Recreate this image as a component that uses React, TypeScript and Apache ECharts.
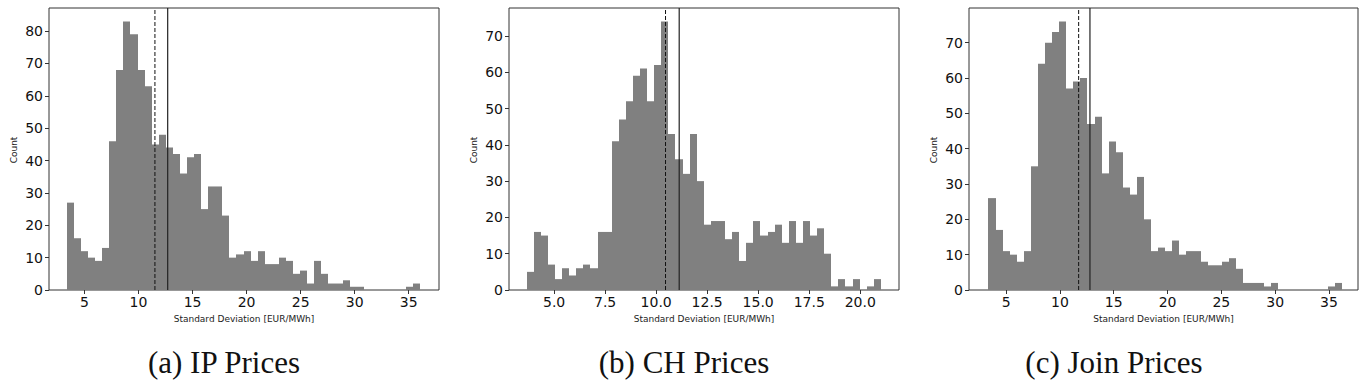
import React, { useEffect, useRef } from "react";
import * as echarts from "echarts";

// ---------- data ----------
const ipCounts = [27, 16, 12, 10, 9, 13, 46, 68, 83, 79, 68, 63, 45, 48, 44, 42, 36, 41, 42, 25, 32, 32, 23, 10, 11, 12, 9, 12, 8, 8, 10, 9, 5, 6, 2, 9, 5, 2, 2, 3, 1, 1, 0, 0, 0, 0, 0, 0, 1, 2];
const chCounts = [5, 16, 15, 7, 3, 6, 4, 6, 7, 6, 16, 16, 41, 47, 52, 59, 61, 52, 62, 74, 43, 36, 32, 43, 30, 18, 19, 19, 14, 16, 8, 13, 19, 15, 16, 18, 13, 19, 13, 19, 15, 17, 10, 1, 3, 1, 3, 0, 1, 3];
const joinCounts = [26, 17, 11, 10, 8, 11, 35, 64, 70, 73, 76, 57, 59, 60, 47, 49, 33, 42, 39, 29, 27, 32, 20, 11, 12, 11, 14, 10, 11, 11, 8, 7, 7, 8, 9, 6, 2, 2, 2, 1, 2, 0, 0, 0, 0, 0, 0, 0, 1, 2];

const binStarts = [3.37, 3.66, 3.36];
const binWidths = [0.654, 0.347, 0.657];
const medians = [11.52, 10.46, 11.74]; // dashed
const means = [12.7, 11.13, 12.79]; // solid

const xTicksIP = [5, 10, 15, 20, 25, 30, 35];
const xTicksCH = [5, 7.5, 10, 12.5, 15, 17.5, 20];
const xTicksJoin = [5, 10, 15, 20, 25, 30, 35];
const yTicksIP = [0, 10, 20, 30, 40, 50, 60, 70, 80];
const yTicksCH = [0, 10, 20, 30, 40, 50, 60, 70];
const yTicksJoin = [0, 10, 20, 30, 40, 50, 60, 70];

const captions = ["(a) IP Prices", "(b) CH Prices", "(c) Join Prices"];
const xAxisTitle = "Standard Deviation [EUR/MWh]";
const yAxisTitle = "Count";

export default function App() {
  const ref = useRef<HTMLDivElement>(null);

  useEffect(() => {
    if (!ref.current) return;
    const chart = echarts.init(ref.current, null, { renderer: "svg" });

    const panels = [
      { counts: ipCounts, xTicks: xTicksIP, yTicks: yTicksIP, xMin: 1.72, xMax: 37.8, yMax: 87.15, left: 49, width: 390, fmt: (v: number) => String(v), capX: 224, yLabX: 14 },
      { counts: chCounts, xTicks: xTicksCH, yTicks: yTicksCH, xMin: 2.79, xMax: 21.9, yMax: 77.7, left: 509, width: 390, fmt: (v: number) => v.toFixed(1), capX: 684, yLabX: 474 },
      { counts: joinCounts, xTicks: xTicksJoin, yTicks: yTicksJoin, xMin: 1.55, xMax: 37.7, yMax: 79.8, left: 969, width: 389, fmt: (v: number) => String(v), capX: 1114, yLabX: 934 },
    ];

    const grid = panels.map((p) => ({
      left: p.left, top: 8, width: p.width, height: 282,
      show: true, borderColor: "#333", borderWidth: 1, backgroundColor: "transparent",
    }));

    const xAxis = panels.map((p, i) => ({
      type: "value", gridIndex: i, min: p.xMin, max: p.xMax,
      axisLine: { show: false }, splitLine: { show: false },
      axisTick: { show: true, customValues: p.xTicks, length: 4, lineStyle: { color: "#333", width: 1 } },
      axisLabel: { customValues: p.xTicks, formatter: p.fmt, fontSize: 14, color: "#111", fontFamily: "DejaVu Sans", margin: 5 },
    }));

    const yAxis = panels.map((p, i) => ({
      type: "value", gridIndex: i, min: 0, max: p.yMax,
      axisLine: { show: false }, splitLine: { show: false },
      axisTick: { show: true, customValues: p.yTicks, length: 4, lineStyle: { color: "#333", width: 1 } },
      axisLabel: { customValues: p.yTicks, fontSize: 14, color: "#111", fontFamily: "DejaVu Sans", margin: 6 },
    }));

    const series: any[] = [];
    panels.forEach((p, i) => {
      const data = p.counts.map((c, k) => [binStarts[i] + k * binWidths[i], binStarts[i] + (k + 1) * binWidths[i], c]);
      series.push({
        type: "custom", xAxisIndex: i, yAxisIndex: i,
        encode: { x: [0, 1], y: 2 },
        data,
        renderItem: (params: any, api: any) => {
          const x0 = api.value(0), x1 = api.value(1), y = api.value(2);
          if (!y) return null;
          const p0 = api.coord([x0, y]);
          const p1 = api.coord([x1, 0]);
          const l = Math.round(p0[0]);
          const r = Math.round(p1[0]);
          return {
            type: "rect",
            shape: { x: l, y: p0[1], width: r - l, height: p1[1] - p0[1] },
            style: { fill: "#808080" },
          };
        },
      });
      series.push({
        type: "line", xAxisIndex: i, yAxisIndex: i, symbol: "none",
        data: [[medians[i], 0], [medians[i], p.yMax]],
        lineStyle: { color: "#111", width: 1, type: [4, 2] },
      });
      series.push({
        type: "line", xAxisIndex: i, yAxisIndex: i, symbol: "none",
        data: [[means[i], 0], [means[i], p.yMax]],
        lineStyle: { color: "#222", width: 1.2, type: "solid" },
      });
    });

    const graphic: any[] = [];
    panels.forEach((p, i) => {
      graphic.push({
        type: "text", x: p.yLabX, y: 150, rotation: Math.PI / 2,
        style: { text: yAxisTitle, fontSize: 9, fontFamily: "DejaVu Sans", fill: "#222", align: "center", verticalAlign: "middle" },
      });
      graphic.push({
        type: "text", x: p.left + p.width / 2, y: 319,
        style: { text: xAxisTitle, fontSize: 9, fontFamily: "DejaVu Sans", fill: "#222", align: "center", verticalAlign: "middle" },
      });
      graphic.push({
        type: "text", x: p.capX, y: 362,
        style: { text: captions[i], fontSize: 31, fontFamily: "Liberation Serif", fill: "#111", align: "center", verticalAlign: "middle" },
      });
    });

    chart.setOption({ animation: false, grid, xAxis, yAxis, series, graphic });
    return () => chart.dispose();
  }, []);

  return (
    <div style={{ position: "fixed", left: 0, top: 0, width: 1368, height: 381, background: "#fff" }}>
      <div ref={ref} style={{ width: 1368, height: 381 }} />
    </div>
  );
}
